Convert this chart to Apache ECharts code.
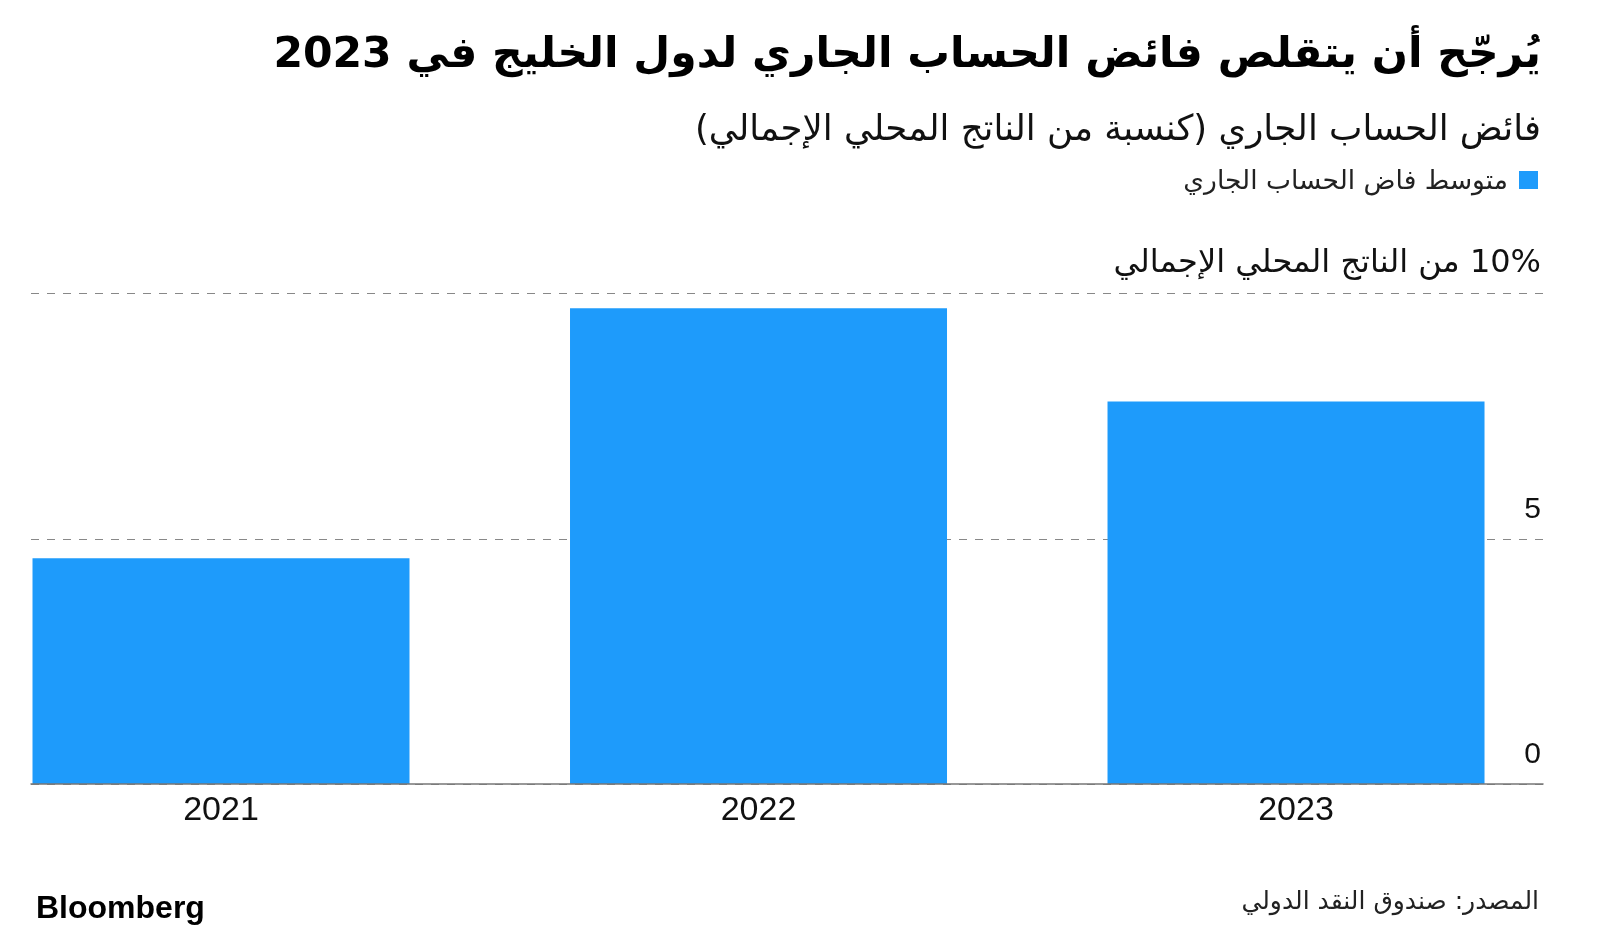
<!DOCTYPE html>
<html>
<head>
<meta charset="utf-8">
<script src="https://cdn.jsdelivr.net/npm/echarts@6/dist/echarts.min.js"></script>
<style>
html,body{margin:0;padding:0;background:#fff;}
#chart{width:1600px;height:930px;}
</style>
</head>
<body>
<div id="chart" dir="rtl"></div>
<script>
const titleText = 'يُرجّح أن يتقلص فائض الحساب الجاري لدول الخليج في 2023';
const subtitleText = 'فائض الحساب الجاري (كنسبة من الناتج المحلي الإجمالي)';
const legendText = 'متوسط فاض الحساب الجاري';
const yTopLabel = '10% من الناتج المحلي الإجمالي';
const sourceText = 'المصدر: صندوق النقد الدولي';
const categories = ['2021', '2022', '2023'];
const values = [4.6, 9.7, 7.8];
const yTicks = [0, 5, 10];

const AR = '"DejaVu Sans", "Noto Sans", sans-serif';
const LAT = '"Liberation Sans", Arial, sans-serif';
const BLUE = '#1e9bfb';

const catIndex = categories.map(function (c, i) { return i; });
const barData = values.map(function (v, i) { return [catIndex[i], v]; });

const chart = echarts.init(document.getElementById('chart'), null, {renderer: 'canvas'});
chart.setOption({
  animation: false,
  backgroundColor: '#fff',
  grid: [{left: 31, right: 57, top: 293.5, bottom: 146, containLabel: false}],
  xAxis: [{
    type: 'value', min: -0.3535, max: 2.4595,
    axisLine: {show: true, onZero: false, lineStyle: {color: '#777', width: 1.5}},
    axisTick: {show: false}, splitLine: {show: false},
    axisLabel: {show: true, customValues: catIndex, color: '#111', fontFamily: LAT, fontSize: 34, margin: 10,
      formatter: function (v) { return categories[Math.round(v)] || ''; }},
    z: 10
  }],
  yAxis: [{
    type: 'value', min: yTicks[0], max: yTicks[yTicks.length-1], interval: 5, position: 'right',
    axisLine: {show: false}, axisTick: {show: false},
    splitLine: {show: true, lineStyle: {color: '#888', type: [8, 8], width: 1}},
    axisLabel: {show: true, inside: true, margin: 2, verticalAlign: 'bottom', padding: [0, 0, 14, 0],
      color: '#111', fontSize: 30, fontFamily: LAT,
      formatter: function (v) { return v === 10 ? '{t|' + yTopLabel + '}' : String(v); },
      rich: {t: {fontFamily: AR, fontSize: 32, color: '#111'}}}
  }],
  series: [{
    type: 'bar', data: barData, barWidth: 377, itemStyle: {color: BLUE}, z: 5
  }],
  graphic: [
    {type: 'text', right: 59, top: 34, style: {text: titleText, font: 'bold 42.5px ' + AR, fill: '#000', textAlign: 'right'}},
    {type: 'text', right: 59, top: 113, style: {text: subtitleText, font: '35.5px ' + AR, fill: '#111', textAlign: 'right'}},
    {type: 'rect', shape: {x: 1519, y: 171, width: 19, height: 18}, style: {fill: BLUE}},
    {type: 'text', right: 92, top: 169, style: {text: legendText, font: '26.5px ' + AR, fill: '#222', textAlign: 'right'}},
    {type: 'text', left: 36, top: 893, style: {text: 'Bloomberg', font: 'bold 32px ' + LAT, fill: '#000'}},
    {type: 'text', right: 61, top: 890, style: {text: sourceText, font: '25px ' + AR, fill: '#222', textAlign: 'right'}}
  ]
});
</script>
</body>
</html>
